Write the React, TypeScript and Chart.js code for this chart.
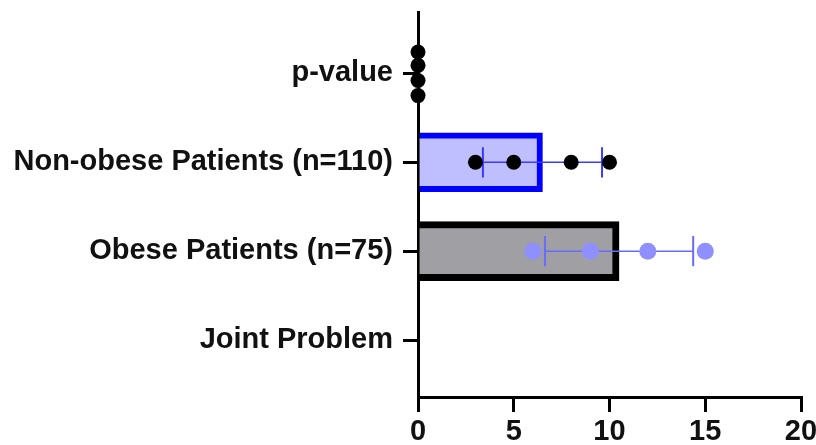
import React, { useEffect, useRef } from "react";
import { Chart, registerables } from "chart.js";
Chart.register(...registerables);

const categories = ["p-value", "Non-obese Patients (n=110)", "Obese Patients (n=75)", "Joint Problem"];
const barRows = [1, 2];
const barMeans = [6.5, 10.5];
const nonObeseValues = [3, 5, 8, 10];
const obeseValues = [6, 9, 12, 15];
const pValueValues = [0, 0, 0, 0];
const pValueJitter = [-0.24, -0.09, 0.08, 0.25];
const errLow = [3.39, 6.63];
const errHigh = [9.61, 14.37];
const xTicks = [0, 5, 10, 15, 20];

const barFill = ["#bfbfff", "#a09fa4"];
const barBorder = ["#0000ff", "#000000"];
const errColor = ["#3b3bff", "#6a6aff"];

export default function App() {
  const ref = useRef<HTMLCanvasElement | null>(null);
  useEffect(() => {
    if (!ref.current) return;
    const font = { family: "'Liberation Sans', Arial, sans-serif", weight: "bold" as const, size: 29 };
    const errDatasets: any[] = [];
    barRows.forEach((row, i) => {
      errDatasets.push({
        type: "line",
        data: [{ x: errLow[i], y: row }, { x: errHigh[i], y: row }],
        borderColor: errColor[i],
        borderWidth: 1.5,
        pointRadius: 0,
        order: 1,
        clip: false,
      });
      [errLow[i], errHigh[i]].forEach((xv) => {
        errDatasets.push({
          type: "line",
          data: [{ x: xv, y: row - 0.17 }, { x: xv, y: row + 0.17 }],
          borderColor: errColor[i],
          borderWidth: 2,
          pointRadius: 0,
          order: 1,
          clip: false,
        });
      });
    });
    const chart = new Chart(ref.current, {
      type: "bar",
      data: {
        datasets: [
          {
            type: "scatter",
            data: pValueValues.map((x, i) => ({ x, y: 0 + pValueJitter[i] })),
            backgroundColor: "#000",
            borderWidth: 0,
            pointRadius: 7.5,
            order: 0,
            clip: false,
          } as any,
          {
            type: "scatter",
            data: nonObeseValues.map((x) => ({ x, y: barRows[0] })),
            backgroundColor: "#000",
            borderWidth: 0,
            pointRadius: 7.5,
            order: 0,
            clip: false,
          } as any,
          {
            type: "scatter",
            data: obeseValues.map((x) => ({ x, y: barRows[1] })),
            backgroundColor: "#8f8fff",
            borderWidth: 0,
            pointRadius: 8.5,
            order: 0,
            clip: false,
          } as any,
          ...errDatasets,
          {
            type: "bar",
            data: barMeans.map((x, i) => ({ x, y: barRows[i] })),
            backgroundColor: barFill,
            borderColor: barBorder,
            borderWidth: [6, 7],
            borderSkipped: "start",
            barThickness: 59,
            order: 2,
          } as any,
        ],
      },
      options: {
        indexAxis: "y",
        animation: false,
        responsive: true,
        maintainAspectRatio: false,
        layout: { padding: { top: 12, left: 0, right: 0, bottom: 0 } },
        plugins: { legend: { display: false }, tooltip: { enabled: false } },
        scales: {
          x: {
            type: "linear",
            min: 0,
            max: 20,
            offset: false,
            afterBuildTicks: (s: any) => {
              s.ticks = xTicks.map((v) => ({ value: v }));
            },
            afterFit: (s: any) => {
              s.height = 48;
              s.paddingRight = 15;
              s.paddingLeft = 0;
            },
            ticks: { color: "#111", font, padding: 3, maxRotation: 0 },
            grid: { offset: false, drawOnChartArea: false, drawTicks: true, tickLength: 15, color: "#000", lineWidth: 3 },
            border: { color: "#000", width: 3 },
          },
          y: {
            type: "linear",
            reverse: true,
            min: -0.69,
            max: 3.64,
            offset: false,
            afterBuildTicks: (s: any) => {
              s.ticks = categories.map((_, i) => ({ value: i }));
            },
            afterFit: (s: any) => {
              s.width = 418;
              s.paddingTop = 0;
              s.paddingBottom = 0;
            },
            ticks: {
              color: "#111",
              font,
              padding: 10,
              callback: (v: any) => categories[v as number] ?? "",
            },
            grid: { offset: false, drawOnChartArea: false, drawTicks: true, tickLength: 15, color: "#000", lineWidth: 3 },
            border: { color: "#000", width: 3 },
          },
        },
      } as any,
    });
    return () => chart.destroy();
  }, []);
  return (
    <div style={{ position: "fixed", left: 0, top: 0, width: 816, height: 445, background: "#fff" }}>
      <canvas ref={ref} />
    </div>
  );
}
